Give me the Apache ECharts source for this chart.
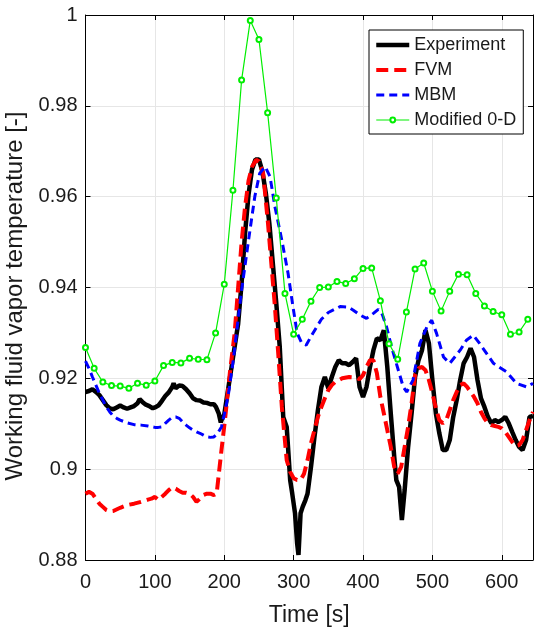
<!DOCTYPE html>
<html>
<head>
<meta charset="utf-8">
<script src="https://cdn.jsdelivr.net/npm/echarts@6/dist/echarts.min.js"></script>
<style>
  html, body { margin: 0; padding: 0; background: #fff; }
  #chart { width: 534px; height: 627px; }
</style>
</head>
<body>
<div id="chart"></div>
<script>
// values
const expTime = [0, 5, 10, 15, 20, 25, 30, 35, 40, 45, 50, 55, 60, 65, 70, 75, 78, 82, 87, 92, 97, 100, 105, 110, 115, 120, 125, 127, 130, 135, 140, 145, 150, 155, 160, 165, 170, 175, 180, 185, 188, 192, 195, 197, 200, 205, 210, 215, 220, 225, 230, 235, 240, 245, 250, 255, 260, 265, 270, 275, 280, 285, 290, 295, 298, 302, 305, 307, 310, 313, 317, 320, 325, 330, 335, 340, 345, 350, 355, 360, 365, 370, 375, 380, 385, 390, 395, 400, 405, 410, 415, 420, 425, 430, 435, 440, 445, 448, 452, 456, 460, 465, 470, 475, 480, 485, 490, 495, 500, 505, 510, 515, 520, 525, 530, 535, 540, 545, 550, 555, 560, 565, 570, 575, 580, 585, 590, 595, 600, 605, 610, 615, 620, 625, 630, 635, 640, 645];
const expTemp = [0.9170, 0.9172, 0.9176, 0.9170, 0.9163, 0.9152, 0.9141, 0.9134, 0.9132, 0.9136, 0.9140, 0.9136, 0.9133, 0.9136, 0.9139, 0.9145, 0.9154, 0.9148, 0.9142, 0.9139, 0.9134, 0.9136, 0.9140, 0.9150, 0.9161, 0.9169, 0.9181, 0.9189, 0.9178, 0.9184, 0.9183, 0.9176, 0.9167, 0.9156, 0.9152, 0.9151, 0.9147, 0.9146, 0.9143, 0.9143, 0.9137, 0.9123, 0.9103, 0.9112, 0.9120, 0.9170, 0.9220, 0.9270, 0.9320, 0.9410, 0.9520, 0.9605, 0.9660, 0.9682, 0.9682, 0.9655, 0.9607, 0.9541, 0.9453, 0.9365, 0.9269, 0.9115, 0.9093, 0.8976, 0.8946, 0.8903, 0.8837, 0.8811, 0.8903, 0.8917, 0.8932, 0.8946, 0.9005, 0.9071, 0.9130, 0.9181, 0.9203, 0.9178, 0.9203, 0.9225, 0.9240, 0.9233, 0.9233, 0.9229, 0.9236, 0.9244, 0.9181, 0.9159, 0.9181, 0.9225, 0.9262, 0.9288, 0.9284, 0.9306, 0.9225, 0.9123, 0.9027, 0.8976, 0.8961, 0.8888, 0.8954, 0.9049, 0.9123, 0.9203, 0.9240, 0.9262, 0.9306, 0.9277, 0.9196, 0.9123, 0.9079, 0.9042, 0.9042, 0.9064, 0.9115, 0.9152, 0.9196, 0.9233, 0.9247, 0.9266, 0.9247, 0.9196, 0.9156, 0.9137, 0.9115, 0.9101, 0.9108, 0.9104, 0.9108, 0.9115, 0.9101, 0.9082, 0.9064, 0.9049, 0.9042, 0.9064, 0.9115, 0.9117];

const fvmTime = [0, 5, 10, 15, 20, 25, 30, 35, 40, 50, 60, 70, 80, 90, 95, 100, 105, 110, 115, 120, 125, 130, 135, 140, 145, 150, 155, 160, 165, 170, 175, 180, 185, 189, 196, 201, 208, 215, 220, 225, 230, 235, 240, 246, 250, 256, 263, 268, 273, 278, 283, 287, 290, 295, 300, 305, 310, 315, 320, 325, 330, 335, 340, 345, 350, 355, 360, 370, 380, 390, 395, 400, 405, 410, 415, 420, 425, 430, 435, 440, 445, 450, 455, 460, 465, 470, 475, 480, 485, 490, 495, 500, 505, 510, 515, 520, 525, 530, 535, 540, 545, 550, 555, 560, 565, 570, 575, 580, 585, 590, 595, 600, 605, 610, 615, 620, 625, 630, 635, 640, 645];
const fvmTemp = [0.8946, 0.8950, 0.8946, 0.8935, 0.8924, 0.8917, 0.8910, 0.8907, 0.8908, 0.8915, 0.8921, 0.8924, 0.8928, 0.8933, 0.8935, 0.8939, 0.8932, 0.8939, 0.8946, 0.8954, 0.8960, 0.8957, 0.8952, 0.8948, 0.8948, 0.8946, 0.8939, 0.8928, 0.8935, 0.8943, 0.8946, 0.8946, 0.8943, 0.8946, 0.9042, 0.9108, 0.9211, 0.9300, 0.9400, 0.9500, 0.9578, 0.9635, 0.9666, 0.9681, 0.9678, 0.9652, 0.9542, 0.9450, 0.9358, 0.9250, 0.9137, 0.9070, 0.9020, 0.8994, 0.8980, 0.8976, 0.8976, 0.8990, 0.9020, 0.9057, 0.9086, 0.9115, 0.9137, 0.9156, 0.9174, 0.9185, 0.9192, 0.9200, 0.9203, 0.9202, 0.9198, 0.9207, 0.9225, 0.9240, 0.9240, 0.9211, 0.9159, 0.9123, 0.9086, 0.9049, 0.9005, 0.8990, 0.9005, 0.9049, 0.9093, 0.9145, 0.9207, 0.9222, 0.9225, 0.9218, 0.9196, 0.9167, 0.9134, 0.9108, 0.9101, 0.9108, 0.9130, 0.9152, 0.9170, 0.9185, 0.9189, 0.9181, 0.9170, 0.9159, 0.9145, 0.9126, 0.9112, 0.9101, 0.9097, 0.9095, 0.9093, 0.9090, 0.9082, 0.9071, 0.9060, 0.9051, 0.9053, 0.9064, 0.9086, 0.9108, 0.9126];

const mbmTime = [0, 5, 10, 15, 20, 25, 30, 35, 40, 45, 50, 60, 70, 80, 90, 100, 105, 110, 115, 120, 125, 130, 135, 140, 145, 150, 155, 160, 165, 170, 175, 180, 185, 190, 196, 200, 206, 213, 220, 225, 235, 244, 251, 259, 266, 273, 283, 292, 299, 305, 311, 318, 328, 340, 350, 367, 379, 386, 395, 405, 415, 422, 428, 434, 441, 448, 458, 463, 472, 482, 492, 499, 506, 516, 525, 540, 549, 559, 568, 588, 607, 621, 636, 645];
const mbmTemp = [0.9238, 0.9222, 0.9203, 0.9185, 0.9167, 0.9152, 0.9137, 0.9126, 0.9117, 0.9112, 0.9108, 0.9102, 0.9098, 0.9097, 0.9095, 0.9092, 0.9092, 0.9093, 0.9101, 0.9108, 0.9114, 0.9115, 0.9112, 0.9104, 0.9097, 0.9091, 0.9086, 0.9082, 0.9079, 0.9075, 0.9071, 0.9070, 0.9071, 0.9078, 0.9093, 0.9120, 0.9165, 0.9240, 0.9330, 0.9394, 0.9504, 0.9600, 0.9651, 0.9666, 0.9644, 0.9578, 0.9504, 0.9431, 0.9358, 0.9300, 0.9280, 0.9273, 0.9300, 0.9330, 0.9345, 0.9358, 0.9357, 0.9350, 0.9340, 0.9332, 0.9343, 0.9352, 0.9340, 0.9313, 0.9270, 0.9233, 0.9181, 0.9170, 0.9196, 0.9277, 0.9313, 0.9328, 0.9299, 0.9247, 0.9233, 0.9262, 0.9284, 0.9295, 0.9277, 0.9233, 0.9214, 0.9189, 0.9181, 0.9189];

const odTime = [0, 12.5, 25, 37.5, 50, 62.5, 75, 87.5, 100, 112.5, 125, 137.5, 150, 162.5, 175, 187.5, 200, 212.5, 225, 237.5, 250, 262.5, 275, 287.5, 300, 312.5, 325, 337.5, 350, 362.5, 375, 387.5, 400, 412.5, 425, 437.5, 450, 462.5, 475, 487.5, 500, 512.5, 525, 537.5, 550, 562.5, 575, 587.5, 600, 612.5, 625, 637.5];
const odTemp = [0.9268, 0.9222, 0.9192, 0.9184, 0.9183, 0.9178, 0.9189, 0.9185, 0.9194, 0.9228, 0.9235, 0.9234, 0.9244, 0.9242, 0.9241, 0.9300, 0.9407, 0.9614, 0.9857, 0.9988, 0.9946, 0.9785, 0.9597, 0.9387, 0.9297, 0.9330, 0.9370, 0.9400, 0.9401, 0.9413, 0.9409, 0.9419, 0.9442, 0.9443, 0.9371, 0.9276, 0.9242, 0.9346, 0.9441, 0.9454, 0.9392, 0.9348, 0.9392, 0.9429, 0.9428, 0.9387, 0.9359, 0.9347, 0.9340, 0.9297, 0.9302, 0.9330];

const seriesNames = ['Experiment', 'FVM', 'MBM', 'Modified 0-D'];

const pairs = (xs, ys) => xs.map((x, i) => [x, ys[i]]);

const chart = echarts.init(document.getElementById('chart'), null, { renderer: 'canvas' });

const font = 'Liberation Sans, Arial, Helvetica, sans-serif';
const gridColor = '#e6e6e6';
const inkColor = '#1a1a1a';
const noMarker = { color: 'rgba(0,0,0,0)', borderColor: 'rgba(0,0,0,0)', borderWidth: 0 };

const frameAxis = {
    type: 'value',
    axisLine: { show: true, onZero: false, lineStyle: { color: '#000', width: 1 } },
    axisTick: { show: true, inside: true, length: 5, lineStyle: { color: '#000' } },
    axisLabel: { show: false },
    splitLine: { show: false },
};

const option = {
    animation: false,
    backgroundColor: '#fff',
    textStyle: { fontFamily: font },
    grid: { left: 85.5, right: 1, top: 15, bottom: 67, containLabel: false, outerBoundsMode: 'none' },
    legend: {
        // plain lines for the three curves, a small open circle for the 0-D model
        data: [
            { name: seriesNames[0], itemStyle: noMarker, lineStyle: { width: 4.5 } },
            { name: seriesNames[1], itemStyle: noMarker, lineStyle: { width: 4 } },
            { name: seriesNames[2], itemStyle: noMarker, lineStyle: { width: 3 } },
            { name: seriesNames[3], lineStyle: { width: 1.2 } },
        ],
        orient: 'vertical',
        left: 369,
        top: 30,
        padding: [6, 7, 5, 5],
        itemGap: 7,
        itemWidth: 33,
        itemHeight: 6,
        backgroundColor: '#fff',
        borderColor: '#000',
        borderWidth: 1,
        borderRadius: 0,
        textStyle: { fontSize: 18, color: inkColor, fontFamily: font },
    },
    xAxis: [
        {
            type: 'value',
            min: 0,
            max: 645,
            interval: 100,
            name: 'Time [s]',
            nameLocation: 'middle',
            nameGap: 44,
            nameTextStyle: { fontSize: 23, color: inkColor, fontFamily: font },
            axisLine: { onZero: false, lineStyle: { color: '#000', width: 1 } },
            axisTick: { inside: true, length: 5, lineStyle: { color: '#000' } },
            axisLabel: { fontSize: 20, color: inkColor, margin: 12, showMaxLabel: false, fontFamily: font },
            splitLine: { show: true, lineStyle: { color: gridColor, width: 1 } },
        },
        Object.assign({}, frameAxis, { position: 'top', min: 0, max: 645, interval: 100 }),
    ],
    yAxis: [
        {
            type: 'value',
            min: 0.88,
            max: 1,
            interval: 0.02,
            name: 'Working fluid vapor temperature [-]',
            nameLocation: 'middle',
            nameGap: 47,
            nameTextStyle: { fontSize: 24, color: inkColor, fontFamily: font, padding: [0, 17, 0, 0] },
            axisLine: { show: true, onZero: false, lineStyle: { color: '#000', width: 1 } },
            axisTick: { show: true, inside: true, length: 5, lineStyle: { color: '#000' } },
            axisLabel: {
                fontSize: 20,
                color: inkColor,
                margin: 8,
                fontFamily: font,
                formatter: (v) => String(parseFloat(v.toFixed(2))),
            },
            splitLine: { show: true, lineStyle: { color: gridColor, width: 1 } },
        },
        Object.assign({}, frameAxis, { position: 'right', min: 0.88, max: 1, interval: 0.02 }),
    ],
    series: [
        {
            name: 'Experiment',
            type: 'line',
            data: pairs(expTime, expTemp),
            showSymbol: false,
            symbol: 'none',
            lineStyle: { color: '#000', width: 4.5 },
            itemStyle: { color: '#000' },
        },
        {
            name: 'FVM',
            type: 'line',
            data: pairs(fvmTime, fvmTemp),
            showSymbol: false,
            symbol: 'none',
            lineStyle: { color: '#ff0000', width: 4, type: [12, 6] },
            itemStyle: { color: '#ff0000' },
        },
        {
            name: 'MBM',
            type: 'line',
            data: pairs(mbmTime, mbmTemp),
            showSymbol: false,
            symbol: 'none',
            lineStyle: { color: '#0000ff', width: 3, type: [8, 5] },
            itemStyle: { color: '#0000ff' },
        },
        {
            name: 'Modified 0-D',
            type: 'line',
            data: pairs(odTime, odTemp),
            symbol: 'emptyCircle',
            symbolSize: 5,
            lineStyle: { color: '#00ee00', width: 1.2 },
            itemStyle: { color: '#00ee00', borderColor: '#00ee00', borderWidth: 1.2 },
        },
    ],
};

chart.setOption(option);
</script>
</body>
</html>
